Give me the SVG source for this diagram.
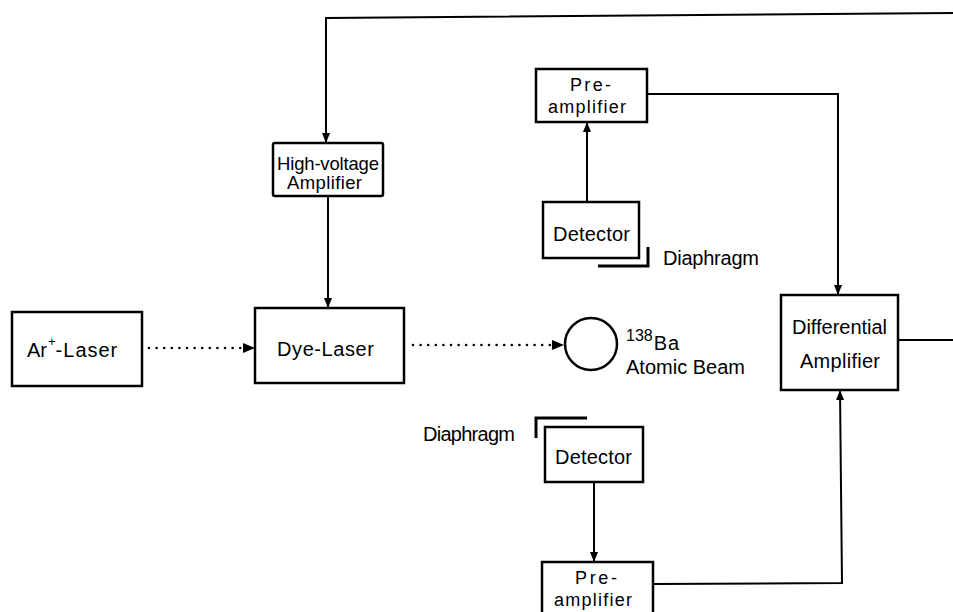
<svg xmlns="http://www.w3.org/2000/svg" width="953" height="612" viewBox="0 0 953 612">
<style>
.box{fill:#fff;stroke:#000;stroke-width:2.5}
.t{font-family:"Liberation Sans",Arial,sans-serif;font-size:20px;fill:#000}
.s{font-size:18.5px}
.p{font-size:18px}
.m{text-anchor:middle}
.ln{fill:none;stroke:#000;stroke-width:2}
.dot{fill:none;stroke:#000;stroke-width:2.6;stroke-linecap:round;stroke-dasharray:0 7.6}
.dia{fill:none;stroke:#000;stroke-width:3}
</style>
<defs>
<marker id="ah" markerWidth="10" markerHeight="12" refX="10" refY="5" orient="auto" markerUnits="userSpaceOnUse" viewBox="0 0 10 10">
<path d="M0,1 L10,5 L0,9 Z" fill="#000"/>
</marker>
</defs>
<rect width="953" height="612" fill="#fff"/>
<g id="connectors">
<polyline class="ln" points="953,13 326,18 326,143" marker-end="url(#ah)"/>
<line class="ln" x1="328" y1="196" x2="328" y2="308" marker-end="url(#ah)"/>
<line class="dot" x1="149" y1="348" x2="247" y2="348"/>
<path d="M243,343 L255,348 L243,353 Z" fill="#000"/>
<line class="dot" x1="413" y1="345" x2="552" y2="345"/>
<path d="M552,340 L564,345 L552,350 Z" fill="#000"/>
<line class="ln" x1="587" y1="202" x2="587" y2="122" marker-end="url(#ah)"/>
<polyline class="ln" points="647,94 838,94 838,295" marker-end="url(#ah)"/>
<line class="ln" x1="594" y1="482" x2="594" y2="562" marker-end="url(#ah)"/>
<polyline class="ln" points="653,584 842,583 840,390" marker-end="url(#ah)"/>
<line class="ln" x1="898" y1="340" x2="953" y2="340"/>
</g>
<g id="hv-amplifier">
<rect class="box" x="273" y="143" width="110" height="53" rx="2"/>
<text class="t s" x="277" y="170" textLength="102">High-voltage</text>
<text class="t s" x="287" y="189" textLength="75">Amplifier</text>
</g>
<g id="ar-laser">
<rect class="box" x="12" y="312" width="130" height="74"/>
<text class="t" x="27" y="357">Ar<tspan font-size="13" dy="-11" dx="1">+</tspan><tspan dy="11" letter-spacing="1">-Laser</tspan></text>
</g>
<g id="dye-laser">
<rect class="box" x="255" y="308" width="149" height="75"/>
<text class="t" x="277" y="356" textLength="97">Dye-Laser</text>
</g>
<g id="atomic-beam">
<circle cx="591" cy="344" r="26" fill="#fff" stroke="#000" stroke-width="2.5"/>
<text class="t" x="626" y="350"><tspan font-size="16" dy="-9">138</tspan><tspan dy="9" dx="1" letter-spacing="1">Ba</tspan></text>
<text class="t" x="626" y="374" textLength="119">Atomic Beam</text>
</g>
<g id="preamp-upper">
<rect class="box" x="536" y="69" width="111" height="53"/>
<text class="t p" x="570" y="91" textLength="41">Pre-</text>
<text class="t p" x="548" y="113" textLength="78">amplifier</text>
</g>
<g id="detector-upper">
<rect class="box" x="543" y="202" width="96" height="56"/>
<text class="t" x="553" y="241" textLength="77">Detector</text>
<polyline class="dia" points="598,266 648,266 648,247"/>
<text class="t" x="663" y="265" textLength="96">Diaphragm</text>
</g>
<g id="detector-lower">
<rect class="box" x="545" y="427" width="98" height="55"/>
<text class="t" x="555" y="464" textLength="77">Detector</text>
<polyline class="dia" points="587,418 536,418 536,438"/>
<text class="t" x="423" y="441" textLength="92">Diaphragm</text>
</g>
<g id="preamp-lower">
<rect class="box" x="542" y="562" width="111" height="60"/>
<text class="t p" x="575" y="584" textLength="42">Pre-</text>
<text class="t p" x="554" y="606" textLength="78">amplifier</text>
</g>
<g id="differential-amplifier">
<rect class="box" x="781" y="295" width="117" height="95"/>
<text class="t" x="792" y="334" textLength="95">Differential</text>
<text class="t" x="800" y="368" textLength="80">Amplifier</text>
</g>
</svg>
